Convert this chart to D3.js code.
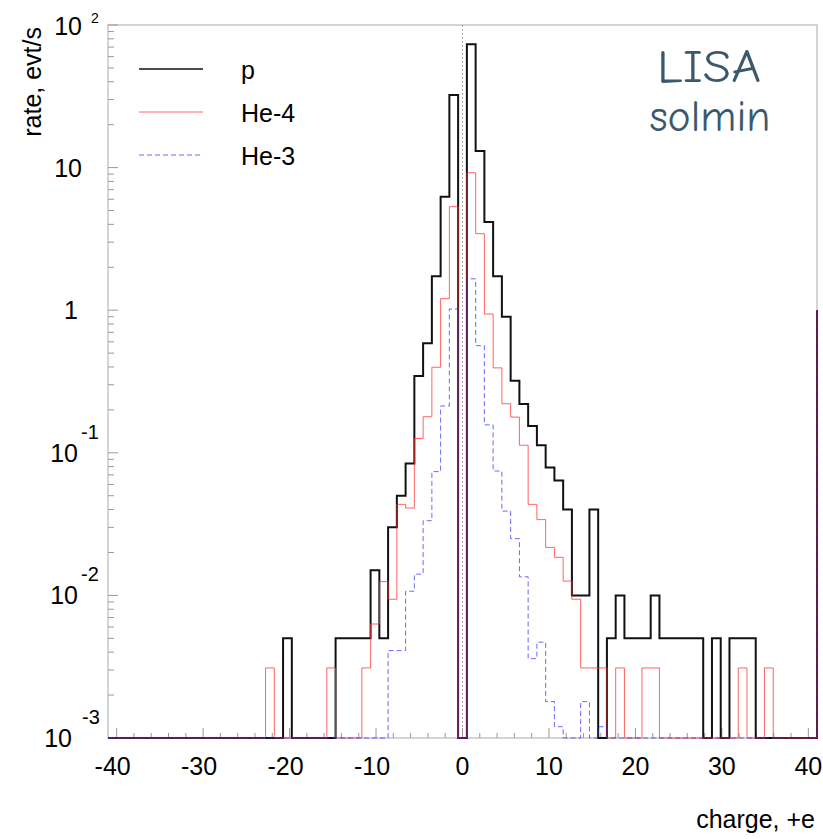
<!DOCTYPE html>
<html>
<head>
<meta charset="utf-8">
<script src="https://cdn.jsdelivr.net/npm/d3@7"></script>
<style>
  body { margin: 0; background: #fff; }
  svg { display: block; }
</style>
</head>
<body>
<div id="chart"></div>
<script>
// histogram: 81 bins over [-41, 41], bin centers k = -40..40
const charges = d3.range(-40, 41);

// rates (evt/s), one value per bin, 0 = empty
const rateP = [
  0, 0, 0, 0, 0, 0, 0, 0, 0, 0,
  0, 0, 0, 0, 0, 0, 0, 0, 0, 0,
  0.005, 0, 0, 0, 0, 0, 0.005, 0.005, 0.005, 0.005,
  0.015, 0.005, 0.030, 0.050, 0.084, 0.346, 0.586, 1.73, 6.25, 32.3,
  0,
  73.3, 13.1, 4.15, 1.73, 0.90, 0.32, 0.22, 0.154, 0.113, 0.079,
  0.064, 0.040, 0.010, 0.010, 0.040, 0, 0.005, 0.010, 0.005, 0.005,
  0.005, 0.010, 0.005, 0.005, 0.005, 0.005, 0.005, 0, 0.005, 0,
  0.005, 0.005, 0.005, 0, 0, 0, 0, 0, 0, 0
];

const rateHe4 = [
  0, 0, 0, 0, 0, 0, 0, 0, 0, 0,
  0, 0, 0, 0, 0, 0, 0, 0, 0.0031, 0,
  0, 0, 0, 0, 0, 0.0031, 0, 0, 0, 0.0031,
  0.0063, 0.0125, 0.0094, 0.0435, 0.041, 0.126, 0.179, 0.398, 1.205, 5.32,
  0,
  9.2, 3.44, 0.94, 0.394, 0.221, 0.178, 0.113, 0.0435, 0.034, 0.0217,
  0.0185, 0.0126, 0.0094, 0.0031, 0.0031, 0.0031, 0, 0.0031, 0, 0,
  0.0031, 0.0031, 0, 0, 0, 0, 0, 0, 0, 0,
  0, 0.0031, 0, 0, 0.0031, 0, 0, 0, 0, 0
];

const rateHe3 = [
  0, 0, 0, 0, 0, 0, 0, 0, 0, 0,
  0, 0, 0, 0, 0, 0, 0, 0, 0, 0,
  0, 0, 0, 0, 0, 0, 0, 0, 0, 0,
  0, 0, 0.0041, 0.0041, 0.0107, 0.0141, 0.0334, 0.0738, 0.213, 1.02,
  0,
  1.66, 0.564, 0.157, 0.0745, 0.039, 0.025, 0.0135, 0.0036, 0.0047, 0.0018,
  0.0012, 0, 0, 0.0018, 0, 0.0012, 0, 0, 0, 0,
  0, 0, 0, 0, 0, 0, 0, 0, 0, 0,
  0, 0, 0, 0, 0, 0, 0, 0, 0, 0
];

const seriesNames = ["p", "He-4", "He-3"];
const xTicks = [-40, -30, -20, -10, 0, 10, 20, 30, 40];
const yTickExps = [2, 1, 0, -1, -2, -3];
const rightEdgeLevel = 1;

const width = 823, height = 839;
const plot = { left: 108, right: 817, top: 25, bottom: 738 };
const axisColor = "#9a9a9a";

const x = d3.scaleLinear().domain([-41, 41]).range([plot.left, plot.right]);
const y = d3.scaleLog().domain([1e-3, 1e2]).range([plot.bottom, plot.top]);
const binW = (x.domain()[1] - x.domain()[0]) / charges.length;

const styles = {
  "p":    { stroke: "#111", width: 2, dash: null },
  "He-4": { stroke: "#ff3030", width: 1, dash: null, opacity: 0.75 },
  "He-3": { stroke: "#2a2aff", width: 1, dash: "5,3", opacity: 0.7 }
};

const svg = d3.select("#chart").append("svg")
  .attr("width", width)
  .attr("height", height)
  .style("font-family", "'Liberation Sans', Arial, Helvetica, sans-serif");

// frame
svg.append("rect")
  .attr("x", plot.left).attr("y", plot.top)
  .attr("width", plot.right - plot.left)
  .attr("height", plot.bottom - plot.top)
  .attr("fill", "none")
  .attr("stroke", "#b8b8b8")
  .attr("stroke-width", 1.2);

// dotted line at zero charge
svg.append("line")
  .attr("x1", x(0)).attr("x2", x(0))
  .attr("y1", plot.top).attr("y2", plot.bottom)
  .attr("stroke", "#999")
  .attr("stroke-width", 1)
  .attr("stroke-dasharray", "1.5,2.5");

// x axis ticks (pointing up), minor every 2
const xMinor = d3.range(-40, 41, 2);
svg.append("g").selectAll("line")
  .data(xMinor)
  .join("line")
  .attr("x1", d => x(d)).attr("x2", d => x(d))
  .attr("y1", plot.bottom)
  .attr("y2", d => plot.bottom - (d % 10 === 0 ? 10 : 5))
  .attr("stroke", axisColor)
  .attr("stroke-width", 1);

svg.append("g").selectAll("text")
  .data(xTicks)
  .join("text")
  .attr("x", d => x(d) - (d < 0 ? 4 : 0))
  .attr("y", 775)
  .attr("text-anchor", "middle")
  .style("font-size", "25px")
  .text(d => d);

// y axis ticks (pointing right), decades + 2..9
const yMinor = [];
yTickExps.forEach(e => {
  if (e === 2) return;
  for (let m = 2; m <= 9; m++) yMinor.push(m * Math.pow(10, e));
});
svg.append("g").selectAll("line")
  .data(yMinor)
  .join("line")
  .attr("x1", plot.left).attr("x2", plot.left + 6)
  .attr("y1", d => y(d)).attr("y2", d => y(d))
  .attr("stroke", axisColor);

svg.append("g").selectAll("line")
  .data(yTickExps)
  .join("line")
  .attr("x1", plot.left).attr("x2", plot.left + 10)
  .attr("y1", d => y(Math.pow(10, d))).attr("y2", d => y(Math.pow(10, d)))
  .attr("stroke", axisColor);

const yLab = svg.append("g");
yTickExps.forEach(e => {
  const ty = y(Math.pow(10, e));
  if (e === 0) {
    yLab.append("text").attr("x", 78).attr("y", ty + 9)
      .attr("text-anchor", "end").style("font-size", "25px").text("1");
  } else if (e === 1) {
    yLab.append("text").attr("x", 82).attr("y", ty + 9)
      .attr("text-anchor", "end").style("font-size", "25px").text("10");
  } else if (e > 1) {
    yLab.append("text").attr("x", 82).attr("y", ty + 10)
      .attr("text-anchor", "end").style("font-size", "25px").text("10");
    yLab.append("text").attr("x", 91).attr("y", ty - 2)
      .style("font-size", "14px").text(e);
  } else {
    const base = e === -3 ? 72 : 78;
    yLab.append("text").attr("x", base).attr("y", ty + 9)
      .attr("text-anchor", "end").style("font-size", "25px").text("10");
    yLab.append("text").attr("x", base + (e === -3 ? 10 : 3)).attr("y", ty - 14)
      .style("font-size", "20px").text(e);
  }
});

// axis titles
svg.append("text")
  .attr("transform", "translate(41,27) rotate(-90)")
  .attr("text-anchor", "end")
  .style("font-size", "25px")
  .text("rate, evt/s");

svg.append("text")
  .attr("x", 815).attr("y", 828)
  .attr("text-anchor", "end")
  .style("font-size", "25px")
  .text("charge, +e");

// histogram outlines
function histPath(values) {
  const p = d3.path();
  const yv = v => (v > 0 ? y(v) : plot.bottom);
  p.moveTo(x(-41), plot.bottom);
  values.forEach((v, i) => {
    const x0 = x(-41 + i * binW), x1 = x(-41 + (i + 1) * binW);
    p.lineTo(x0, yv(v));
    p.lineTo(x1, yv(v));
  });
  p.lineTo(x(41), plot.bottom);
  p.lineTo(x(41), y(rightEdgeLevel));
  return p.toString();
}

const allRates = { "p": rateP, "He-4": rateHe4, "He-3": rateHe3 };
seriesNames.forEach(name => {
  const s = styles[name];
  svg.append("path")
    .attr("d", histPath(allRates[name]))
    .attr("fill", "none")
    .attr("stroke", s.stroke)
    .attr("stroke-width", s.width)
    .attr("stroke-opacity", s.opacity || 1)
    .attr("stroke-dasharray", s.dash);
});

// legend
const legendY = [69, 112, 155];
seriesNames.forEach((name, i) => {
  const s = styles[name];
  svg.append("line")
    .attr("x1", 139).attr("x2", 203)
    .attr("y1", legendY[i]).attr("y2", legendY[i])
    .attr("stroke", s.stroke)
    .attr("stroke-width", name === "p" ? 1.5 : 1)
    .attr("stroke-opacity", s.opacity || 1)
    .attr("stroke-dasharray", s.dash);
  svg.append("text")
    .attr("x", 241).attr("y", legendY[i] + 9.5)
    .style("font-size", "25px")
    .text(name);
});

// label
const tag = svg.append("g")
  .style("font-family", "'Comic Sans MS', 'Comic Neue', 'DejaVu Sans', sans-serif")
  .attr("fill", "#3b596d");
tag.append("text")
  .attr("x", 709).attr("y", 82)
  .attr("text-anchor", "middle")
  .attr("textLength", 104).attr("lengthAdjust", "spacingAndGlyphs")
  .style("font-size", "46px")
  .text("LISA");
tag.append("text")
  .attr("x", 710).attr("y", 131)
  .attr("text-anchor", "middle")
  .attr("textLength", 121).attr("lengthAdjust", "spacingAndGlyphs")
  .style("font-size", "44px")
  .text("solmin");
</script>
</body>
</html>
